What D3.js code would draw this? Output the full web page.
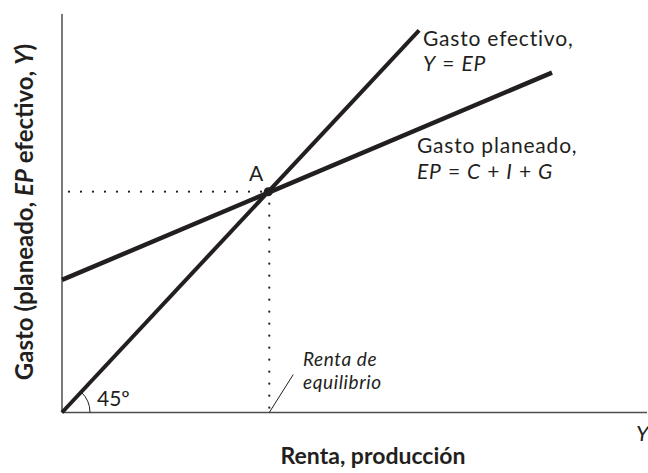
<!DOCTYPE html>
<html>
<head>
<meta charset="utf-8">
<script src="https://cdn.jsdelivr.net/npm/d3@7"></script>
<style>
  body { margin: 0; background: #fff; }
  text { font-family: Lato, "Open Sans", sans-serif; fill: #231f20; }
</style>
</head>
<body>
<svg id="chart" width="648" height="473"></svg>
<script>
// values (same units on both axes)
const actualX = [0, 94]          // Y = EP, the 45 degree line
const actualY = [0, 94]
const plannedX = [0, 129]        // EP = C + I + G
const plannedY = [32.6, 83.6]
const equilibrium = 54.3         // point A

const svg = d3.select("#chart")
const x = d3.scaleLinear().domain([0, 154]).range([62, 647])
const y = d3.scaleLinear().domain([0, 98]).range([412.5, 14])

// axes
svg.append("line")
  .attr("x1", x(0)).attr("y1", y(0)).attr("x2", x(0)).attr("y2", y(98))
  .attr("stroke", "#4d4d4d").attr("stroke-width", 1.5)
svg.append("line")
  .attr("x1", x(0)).attr("y1", y(0)).attr("x2", x(154)).attr("y2", y(0))
  .attr("stroke", "#4d4d4d").attr("stroke-width", 1.5)

// dotted guides to A
svg.append("line")
  .attr("x1", x(0) + 7).attr("y1", y(equilibrium))
  .attr("x2", x(equilibrium)).attr("y2", y(equilibrium))
  .attr("stroke", "#231f20").attr("stroke-width", 2.2)
  .attr("stroke-linecap", "round").attr("stroke-dasharray", "0,12")
svg.append("line")
  .attr("x1", x(equilibrium) + 1).attr("y1", y(equilibrium) + 12)
  .attr("x2", x(equilibrium) + 1).attr("y2", y(0) - 2)
  .attr("stroke", "#231f20").attr("stroke-width", 2.2)
  .attr("stroke-linecap", "round").attr("stroke-dasharray", "0,12")

// 45 degree arc
const arcR = 28
const ang = Math.atan2(y(0) - y(actualY[1]), x(actualX[1]) - x(0))
svg.append("path")
  .attr("d", `M${x(0) + arcR},${y(0)} A${arcR},${arcR} 0 0 0 ${x(0) + arcR * Math.cos(ang)},${y(0) - arcR * Math.sin(ang)}`)
  .attr("fill", "none").attr("stroke", "#231f20").attr("stroke-width", 1)

const line = d3.line().x(d => x(d[0])).y(d => y(d[1]))
svg.append("path")
  .attr("d", line(actualX.map((v, i) => [v, actualY[i]])))
  .attr("fill", "none").attr("stroke", "#231f20").attr("stroke-width", 4)
svg.append("path")
  .attr("d", line(plannedX.map((v, i) => [v, plannedY[i]])))
  .attr("fill", "none").attr("stroke", "#231f20").attr("stroke-width", 4.5)

svg.append("circle")
  .attr("cx", x(equilibrium)).attr("cy", y(equilibrium)).attr("r", 4.5)
  .attr("fill", "#231f20")

// pointer from the equilibrium label to the axis
svg.append("line")
  .attr("x1", x(equilibrium) + 1).attr("y1", y(0))
  .attr("x2", x(equilibrium) + 25).attr("y2", y(0) - 38)
  .attr("stroke", "#231f20").attr("stroke-width", 1)

// labels: each roman/italic run is its own text, placed after the previous one
const label = (g, tx, ty, parts, size, weight, spacing) => {
  let cx = tx
  parts.forEach(p => {
    const t = g.append("text").attr("x", cx).attr("y", ty)
      .attr("font-size", size).attr("font-weight", weight || 400)
      .attr("font-style", p[1] ? "italic" : "normal")
      .attr("letter-spacing", spacing || 0)
      .attr("xml:space", "preserve")
      .text(p[0])
    cx += t.node().getComputedTextLength()
  })
  return cx - tx
}
label(svg, 249, 181, [["A", false]], 21)
label(svg, 97, 406, [["45º", false]], 21)
label(svg, 303, 366, [["Renta de", true]], 19, 400, 0.6)
label(svg, 303, 389, [["equilibrio", true]], 19, 400, 0.6)
label(svg, 423, 45.5, [["Gasto efectivo,", false]], 21, 400, 0.8)
label(svg, 423, 71, [["Y", true], [" = ", false], ["EP", true]], 21, 400, 0.8)
label(svg, 417, 153, [["Gasto planeado,", false]], 21, 400, 0.8)
label(svg, 417, 178.5, [["EP", true], [" = ", false], ["C", true], [" + ", false], ["I", true], [" + ", false], ["G", true]], 21, 400, 0.8)
label(svg, 636, 441, [["Y", true]], 22)

svg.append("text")
  .attr("x", 373).attr("y", 464).attr("text-anchor", "middle")
  .attr("font-size", 23).attr("font-weight", 700)
  .text("Renta, producción")

// rotated y title, centred on y = 212
const yg = svg.append("g")
const w = label(yg, 0, 0, [["Gasto (planeado, ", false], ["EP", true], [" efectivo, ", false], ["Y", true], [")", false]], 24, 700)
yg.attr("transform", `translate(33,${212 + w / 2}) rotate(-90)`)
</script>
</body>
</html>
